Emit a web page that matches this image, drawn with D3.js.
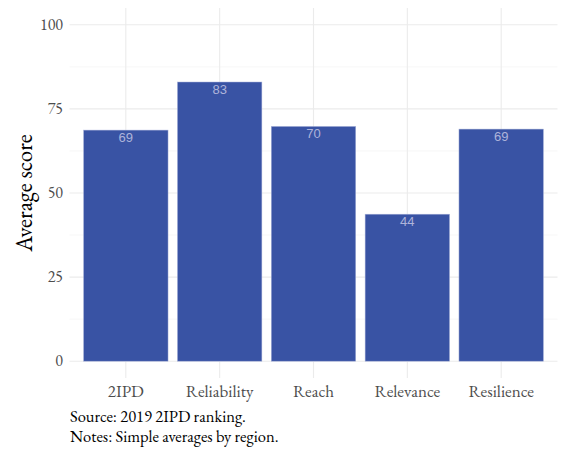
<!DOCTYPE html>
<html><head><meta charset="utf-8">
<script src="https://cdn.jsdelivr.net/npm/d3@7"></script>
<style>body{margin:0;background:#fff}</style>
</head><body>
<script>
const categories = ["2IPD","Reliability","Reach","Relevance","Resilience"];
const values = [68.7, 83.0, 69.8, 43.7, 69.0];
const yTicks = [0,25,50,75,100];
const yMinor = [12.5,37.5,62.5,87.5];
const captionLines = ["Source: 2019 2IPD ranking.","Notes: Simple averages by region."];

const W=561,H=450;
const svg=d3.select("body").append("svg").attr("width",W).attr("height",H);
const pL=69.5,pR=557.5,pT=8,pB=378;
const y=d3.scaleLinear().domain([-5,105]).range([pB,pT]);
const x=d3.scalePoint().domain(categories).range([0,4]);
const step=(pR-pL)/5.2;
const cx=c=>pL+step*(0.6+x(c));
const bw=step*0.9;
const serif="'EB Garamond','Liberation Serif','DejaVu Serif',serif";

const g=svg.append("g");
g.selectAll(".ymin").data(yMinor).join("line").attr("x1",pL).attr("x2",pR)
 .attr("y1",d=>y(d)).attr("y2",d=>y(d)).attr("stroke","#f2f2f2").attr("stroke-width",0.6);
g.selectAll(".ymaj").data(yTicks).join("line").attr("x1",pL).attr("x2",pR)
 .attr("y1",d=>y(d)).attr("y2",d=>y(d)).attr("stroke","#ebebeb").attr("stroke-width",1.1);
g.selectAll(".xmaj").data(categories).join("line").attr("x1",d=>cx(d)).attr("x2",d=>cx(d))
 .attr("y1",pT).attr("y2",pB).attr("stroke","#ebebeb").attr("stroke-width",1.1);

g.selectAll(".bar").data(categories).join("rect")
 .attr("x",d=>cx(d)-bw/2).attr("width",bw)
 .attr("y",(d,i)=>y(values[i])).attr("height",(d,i)=>y(0)-y(values[i]))
 .attr("fill","#3953A4").attr("stroke","#aab3da").attr("stroke-width",0.5);

g.selectAll(".lab").data(categories).join("text")
 .attr("x",d=>cx(d)).attr("y",(d,i)=>y(values[i])+12)
 .attr("text-anchor","middle").attr("font-family","'Liberation Sans',Arial,sans-serif")
 .attr("font-size",13).attr("fill","#aeb3da").text((d,i)=>Math.round(values[i]));

g.selectAll(".yt").data(yTicks).join("text")
 .attr("x",63).attr("y",d=>y(d)+5).attr("text-anchor","end")
 .attr("font-family",serif).attr("font-size",16).attr("fill","#4d4d4d").text(d=>d);

g.selectAll(".xt").data(categories).join("text")
 .attr("x",d=>cx(d)).attr("y",397).attr("text-anchor","middle")
 .attr("font-family",serif).attr("font-size",17).attr("fill","#4d4d4d").text(d=>d);

svg.append("text").attr("transform",`translate(32,${(pT+pB)/2}) rotate(-90)`)
 .attr("text-anchor","middle").attr("font-family",serif).attr("font-size",23)
 .attr("fill","#000").text("Average score");

svg.selectAll(".cap").data(captionLines).join("text")
 .attr("x",70).attr("y",(d,i)=>422+i*20).attr("font-family",serif).attr("font-size",16.5)
 .attr("fill","#000").text(d=>d);
</script>
</body></html>
